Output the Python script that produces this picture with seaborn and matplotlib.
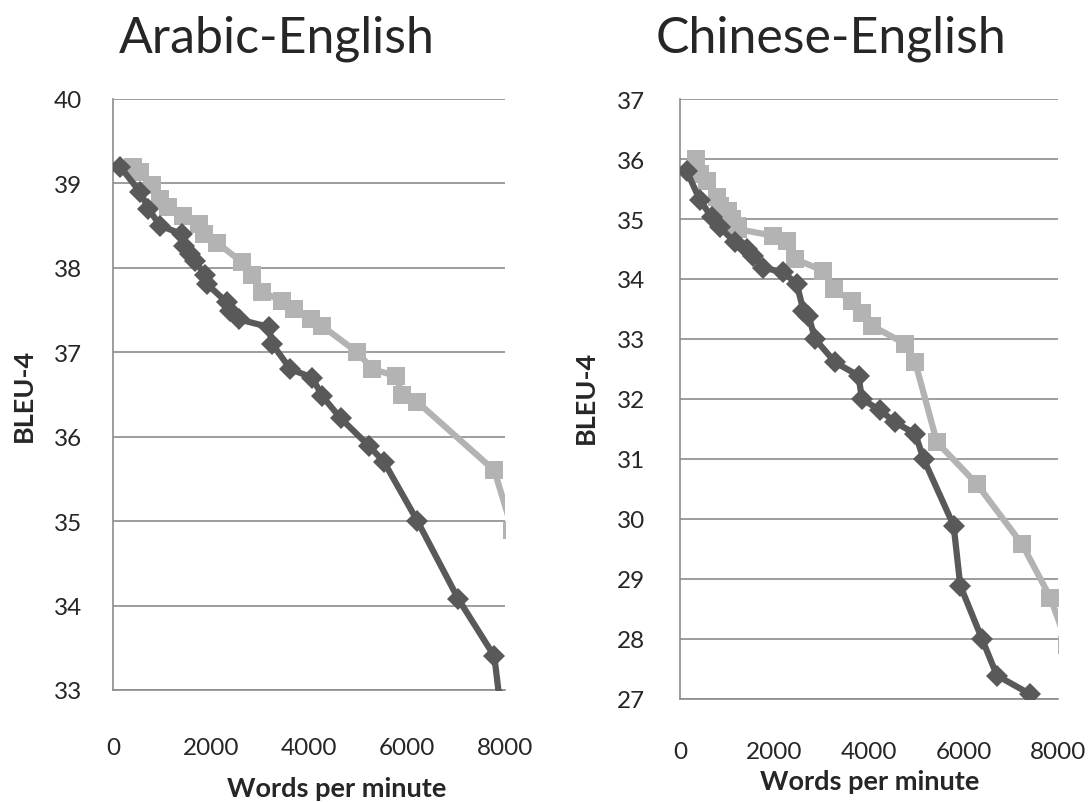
import numpy as np
import pandas as pd
import matplotlib
matplotlib.use("Agg")
import matplotlib.pyplot as plt
import seaborn as sns

# Arabic-English
ar_dark_x = [143, 552, 723, 961, 1405, 1440, 1575, 1678, 1882, 1916, 2325, 2394, 2565,
             3180, 3247, 3622, 4066, 4271, 4644, 5225, 5532, 6214, 7045, 7782, 7885]
ar_dark_y = [39.2, 38.9, 38.7, 38.5, 38.4, 38.26, 38.16, 38.08, 37.91, 37.81, 37.59, 37.49, 37.39,
             37.3, 37.1, 36.8, 36.7, 36.48, 36.22, 35.89, 35.7, 35.0, 34.08, 33.4, 32.9]
ar_light_x = [415, 552, 792, 792, 962, 1132, 1438, 1745, 1848, 2121, 2633, 2633, 2838, 3043,
              3452, 3690, 4031, 4271, 4987, 5294, 5771, 5907, 6214, 7782, 8150]
ar_light_y = [39.2, 39.13, 39.03, 38.93, 38.82, 38.72, 38.62, 38.52, 38.4, 38.3, 38.12, 38.01, 37.91, 37.71,
              37.61, 37.51, 37.39, 37.31, 37.0, 36.8, 36.72, 36.5, 36.41, 35.6, 34.9]

# Chinese-English
zh_dark_x = [142, 424, 672, 847, 1165, 1413, 1553, 1765, 2189, 2471, 2613, 2719, 2860,
             3284, 3778, 3849, 4237, 4555, 4979, 5155, 5791, 5932, 6392, 6709, 7415]
zh_dark_y = [35.8, 35.31, 35.03, 34.86, 34.61, 34.5, 34.39, 34.19, 34.11, 33.92, 33.47, 33.39, 33.0,
             32.61, 32.39, 32.0, 31.81, 31.61, 31.42, 31.0, 29.89, 28.89, 28.0, 27.39, 27.08]
zh_light_x = [339, 424, 565, 777, 847, 1024, 1095, 1201, 1236, 1977, 2260, 2436, 3037, 3249,
              3249, 3637, 3849, 4061, 4767, 4979, 5438, 6286, 7239, 7839, 8200]
zh_light_y = [36.0, 35.75, 35.64, 35.36, 35.22, 35.14, 35.0, 34.89, 34.83, 34.72, 34.64, 34.33, 34.14, 33.94,
              33.72, 33.64, 33.44, 33.22, 32.92, 32.61, 31.28, 30.58, 29.58, 28.69, 27.9]

sns.set_style("white")
plt.rcParams['font.family'] = ['Lato', 'DejaVu Sans']

dark = '#595959'
light = '#b3b3b3'
grid = '#8c8c8c'

W, H = 1089, 803
fig = plt.figure(figsize=(W / 100, H / 100), dpi=100)
ax1 = fig.add_axes([113/W, 1-691/H, 392/W, 591/H])
ax2 = fig.add_axes([680/W, 1-700/H, 378/W, 600/H])


def draw(ax, lx, ly, dx, dy, ylim, yticks, xpad, ypad):
    sns.lineplot(x=lx, y=ly, sort=False, ax=ax, color=light, lw=4.5, marker='s',
                 markersize=13, markeredgewidth=0, zorder=3)
    sns.lineplot(x=dx, y=dy, sort=False, ax=ax, color=dark, lw=4.5, marker='D',
                 markersize=11, markeredgewidth=0, zorder=4)
    ax.set_xlim(0, 8000)
    ax.set_ylim(*ylim)
    ax.set_yticks(yticks)
    ax.set_xticks([0, 2000, 4000, 6000, 8000])
    ax.yaxis.grid(True, color=grid, lw=1.2)
    for s in ['top', 'right']:
        ax.spines[s].set_visible(False)
    for s in ['left', 'bottom']:
        ax.spines[s].set_color(grid)
        ax.spines[s].set_linewidth(1.2)
    ax.tick_params(axis='y', length=9, color=grid, width=1.2, labelsize=17.5, pad=ypad)
    ax.tick_params(axis='x', length=9, color=grid, width=1.2, labelsize=17.5, pad=xpad)
    ax.set_xlabel('')
    ax.set_ylabel('')


draw(ax1, ar_light_x, ar_light_y, ar_dark_x, ar_dark_y, (33, 40), range(33, 41), 25, 13)
draw(ax2, zh_light_x, zh_light_y, zh_dark_x, zh_dark_y, (27, 37), range(27, 38), 21, 16)

fig.text(277/W, 1-52/H, 'Arabic-English', ha='center', va='baseline', fontsize=36)
fig.text(831/W, 1-52/H, 'Chinese-English', ha='center', va='baseline', fontsize=36)
fig.text(24/W, 1-395/H, 'BLEU-4', ha='center', va='center', rotation=90,
         fontsize=19.5, fontweight='bold')
fig.text(586/W, 1-397/H, 'BLEU-4', ha='center', va='center', rotation=90,
         fontsize=19.5, fontweight='bold')
fig.text(337/W, 1-797/H, 'Words per minute', ha='center', va='baseline',
         fontsize=19.5, fontweight='bold')
fig.text(870/W, 1-790/H, 'Words per minute', ha='center', va='baseline',
         fontsize=19.5, fontweight='bold')

fig.savefig('out.png', dpi=100)
